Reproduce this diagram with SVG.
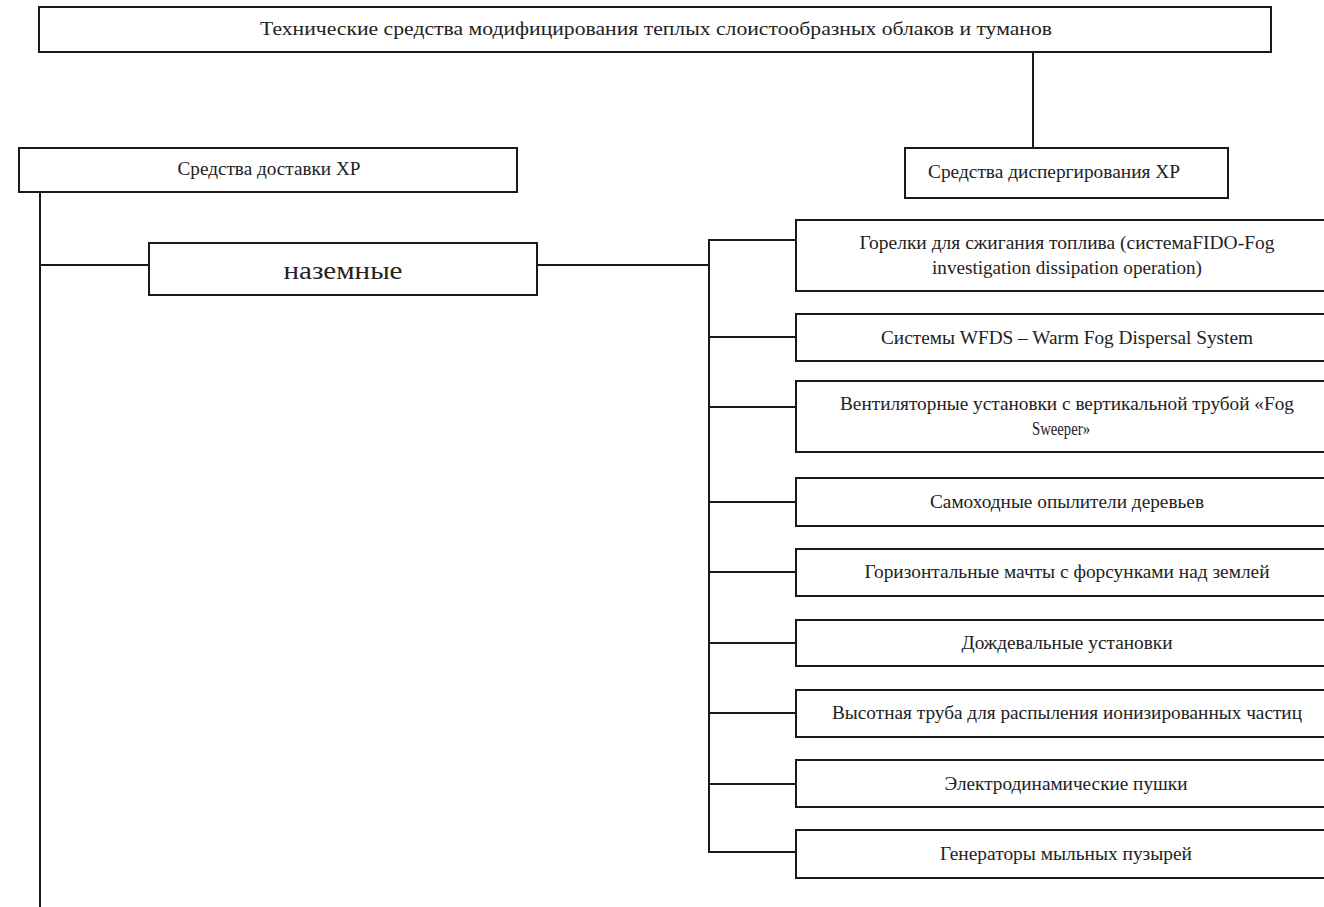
<svg xmlns="http://www.w3.org/2000/svg" width="1324" height="907" viewBox="0 0 1324 907">
<style>
rect.b{fill:#fff;stroke:#1a1a1a;stroke-width:2}
text{font-family:"Liberation Serif","DejaVu Serif",serif;font-size:18px;fill:#222;text-anchor:middle}
text.big{font-size:26px}
#connectors line{stroke:#1a1a1a;stroke-width:2}
</style>
<rect width="1324" height="907" fill="#fff"/>
<g id="connectors">
<line x1="1033" y1="52" x2="1033" y2="148"/>
<line x1="40" y1="192" x2="40" y2="907"/>
<line x1="40" y1="265" x2="149" y2="265"/>
<line x1="537" y1="265" x2="709" y2="265"/>
<line x1="709" y1="239" x2="709" y2="853"/>
<line x1="708" y1="240" x2="796" y2="240"/>
<line x1="709" y1="337" x2="796" y2="337"/>
<line x1="709" y1="407" x2="796" y2="407"/>
<line x1="709" y1="502" x2="796" y2="502"/>
<line x1="709" y1="572" x2="796" y2="572"/>
<line x1="709" y1="643" x2="796" y2="643"/>
<line x1="709" y1="713" x2="796" y2="713"/>
<line x1="709" y1="784" x2="796" y2="784"/>
<line x1="708" y1="852" x2="796" y2="852"/>
</g>
<g id="n-top"><rect class="b" x="39" y="7" width="1232" height="45"/><text x="656" y="35" textLength="792" lengthAdjust="spacingAndGlyphs">Технические средства модифицирования теплых слоистообразных облаков и туманов</text></g>
<g id="n-delivery"><rect class="b" x="19" y="148" width="498" height="44"/><text x="269" y="175" textLength="183" lengthAdjust="spacingAndGlyphs">Средства доставки ХР</text></g>
<g id="n-dispersion"><rect class="b" x="905" y="148" width="323" height="50"/><text x="1054" y="178" textLength="252" lengthAdjust="spacingAndGlyphs">Средства диспергирования ХР</text></g>
<g id="n-ground"><rect class="b" x="149" y="243" width="388" height="52"/><text class="big" x="343" y="279" textLength="119" lengthAdjust="spacingAndGlyphs">наземные</text></g>
<g id="n-1"><rect class="b" x="796" y="220" width="540" height="71"/><text x="1067" y="249" textLength="415" lengthAdjust="spacingAndGlyphs">Горелки для сжигания топлива (системаFIDO-Fog</text><text x="1067" y="274" textLength="270" lengthAdjust="spacingAndGlyphs">investigation dissipation operation)</text></g>
<g id="n-2"><rect class="b" x="796" y="314" width="540" height="47"/><text x="1067" y="344" textLength="372" lengthAdjust="spacingAndGlyphs">Системы WFDS – Warm Fog Dispersal System</text></g>
<g id="n-3"><rect class="b" x="796" y="381" width="540" height="71"/><text x="1067" y="410" textLength="454" lengthAdjust="spacingAndGlyphs">Вентиляторные установки с вертикальной трубой «Fog</text><text x="1061" y="435" textLength="58" lengthAdjust="spacingAndGlyphs">Sweeper»</text></g>
<g id="n-4"><rect class="b" x="796" y="478" width="540" height="48"/><text x="1067" y="508" textLength="274" lengthAdjust="spacingAndGlyphs">Самоходные опылители деревьев</text></g>
<g id="n-5"><rect class="b" x="796" y="549" width="540" height="47"/><text x="1067" y="578" textLength="405" lengthAdjust="spacingAndGlyphs">Горизонтальные мачты с форсунками над землей</text></g>
<g id="n-6"><rect class="b" x="796" y="620" width="540" height="46"/><text x="1067" y="649" textLength="211" lengthAdjust="spacingAndGlyphs">Дождевальные установки</text></g>
<g id="n-7"><rect class="b" x="796" y="690" width="540" height="47"/><text x="1067" y="719" textLength="470" lengthAdjust="spacingAndGlyphs">Высотная труба для распыления ионизированных частиц</text></g>
<g id="n-8"><rect class="b" x="796" y="760" width="540" height="47"/><text x="1066" y="790" textLength="243" lengthAdjust="spacingAndGlyphs">Электродинамические пушки</text></g>
<g id="n-9"><rect class="b" x="796" y="830" width="540" height="48"/><text x="1066" y="860" textLength="252" lengthAdjust="spacingAndGlyphs">Генераторы мыльных пузырей</text></g>
</svg>
